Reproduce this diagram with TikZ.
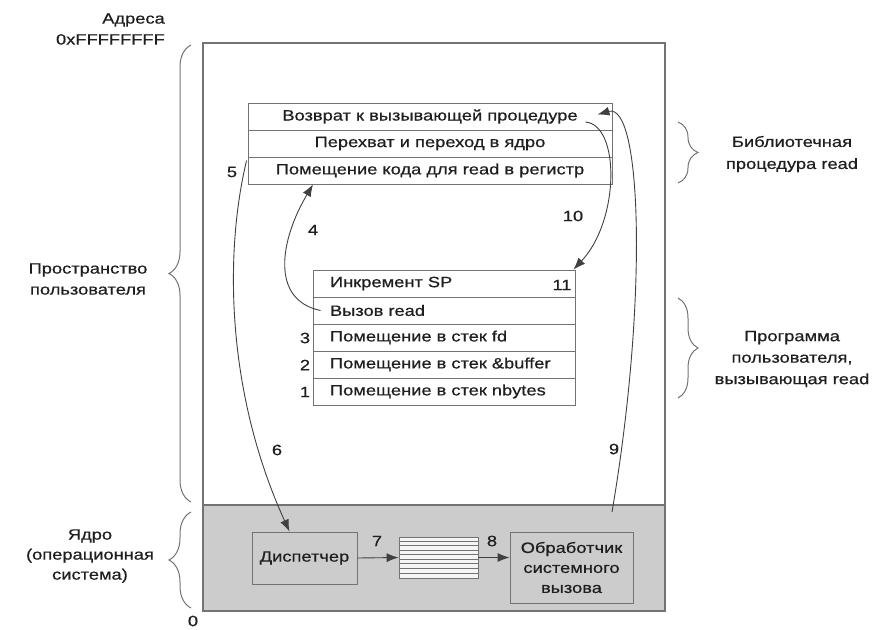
\documentclass[tikz,border=0pt]{standalone}
\usepackage{fontspec}
\setmainfont[FakeStretch=1.22,FakeBold=0.6]{Liberation Sans}
\usetikzlibrary{arrows.meta,decorations.pathreplacing}
\definecolor{linec}{gray}{0.25}
\definecolor{boxc}{gray}{0.45}
\definecolor{kfill}{gray}{0.80}
\definecolor{txtc}{gray}{0.12}
\begin{document}
\begin{tikzpicture}[x=1pt,y=-1pt,
  font=\fontsize{15}{21}\selectfont, text=txtc,
  row/.style={draw=boxc, line width=0.9pt, minimum height=27pt, inner sep=0pt},
  librow/.style={row, minimum width=364pt},
  userrow/.style={row, text width=228pt, inner xsep=17pt, align=left},
  kbox/.style={draw=boxc, line width=0.9pt, fill=kfill, inner sep=0pt, align=center},
  conn/.style={draw=linec, line width=0.9pt, -{Latex[length=12pt,width=9pt]}},
  brc/.style={draw=boxc, line width=1pt, decorate, decoration={brace,amplitude=#1}},
  lbl/.style={inner sep=0pt, align=center},
  num/.style={inner sep=0pt}]
\useasboundingbox (0,0) rectangle (885,629);
% outer memory box
\node[draw=boxc, line width=1.2pt, minimum width=462pt, minimum height=568pt, inner sep=0pt] (mem) at (434,327) {};
\node[draw=boxc, line width=1.2pt, fill=kfill, minimum width=462pt, minimum height=106pt, inner sep=0pt] (kern) at (434,558) {};
% library procedure
\node[librow] (lib1) at (430,116.5) {Возврат к вызывающей процедуре};
\node[librow] (lib2) at (430,143.5) {Перехват и переход в ядро};
\node[librow] (lib3) at (430,170.5) {Помещение кода для read в регистр};
% user program
\node[userrow] (u1) at (444,283.5) {Инкремент SP};
\node[userrow] (u2) at (444,310.5) {Вызов read};
\node[userrow] (u3) at (444,337.5) {Помещение в стек fd};
\node[userrow] (u4) at (444,364.5) {Помещение в стек \&buffer};
\node[userrow] (u5) at (444,391.5) {Помещение в стек nbytes};
% kernel boxes
\node[kbox, minimum width=105pt, minimum height=52pt] (disp) at (304.5,558) {Диспетчер};
\node[draw=boxc, line width=0.9pt, fill=gray!8, minimum width=79pt, minimum height=41pt, inner sep=0pt] (stk) at (438.5,557.5) {};
\foreach \k in {1,...,8}
  \draw[boxc, line width=0.8pt] ([yshift=-\k*4.55pt]stk.north west) -- ([yshift=-\k*4.55pt]stk.north east);
\node[kbox, minimum width=123pt, minimum height=71pt, font=\fontsize{15}{20}\selectfont] (hand) at (571.5,567.5) {Обработчик\\системного\\вызова};
% numbers
\node[num] (n1) at (305,392) {1};
\node[num] (n2) at (305,365) {2};
\node[num] (n3) at (305,338) {3};
\node[num] (n4) at (313,230) {4};
\node[num] (n5) at (232,172) {5};
\node[num] (n6) at (277,450) {6};
\node[num] (n7) at (377,541) {7};
\node[num] (n8) at (492,541) {8};
\node[num] (n9) at (614,449) {9};
\node[num] (n10) at (573,216) {10};
\node[num] (n11) at (562,285) {11};
% connectors
\coordinate (s9) at (612,512);
\draw[conn] ([xshift=-1pt,yshift=-4pt]lib3.north west) .. controls (225,250) and (225,390) .. ([xshift=-15pt]disp.north);
\draw[conn] ([xshift=8pt]u2.west) .. controls (270,300) and (280,240) .. ([xshift=-117pt]lib3.south);
\draw[conn] (disp.east) -- (stk.west);
\draw[conn] (stk.east) -- (stk.east -| hand.west);
\draw[conn] (s9) .. controls (648,300) and (642,102) .. ([xshift=-15pt,yshift=2pt]lib1.east);
\draw[conn] ([xshift=-27pt,yshift=-5.5pt]lib1.east) .. controls (620,125) and (620,220) .. ([xshift=-2pt]u1.north east);
% braces
\draw[brc=22pt] (191,502) -- (191,45);
\draw[brc=22pt] (191,608) -- (191,512);
\draw[brc=20pt] (678,122) -- (678,183);
\draw[brc=20pt] (678,298) -- (678,398);
% labels
\node[lbl, align=right, anchor=east] (addr) at (165,29) {Адреса\\0xFFFFFFFF};
\node[lbl] (usp) at (88,279) {Пространство\\пользователя};
\node[lbl, font=\fontsize{15}{20}\selectfont] (ker) at (90,556) {Ядро\\(операционная\\система)};
\node[num] (zero) at (193,621) {0};
\node[lbl, font=\fontsize{15}{22}\selectfont] (libl) at (792,154) {Библиотечная\\процедура read};
\node[lbl, font=\fontsize{15}{21.5}\selectfont] (progl) at (792,359) {Программа\\пользователя,\\вызывающая read};
\end{tikzpicture}
\end{document}
